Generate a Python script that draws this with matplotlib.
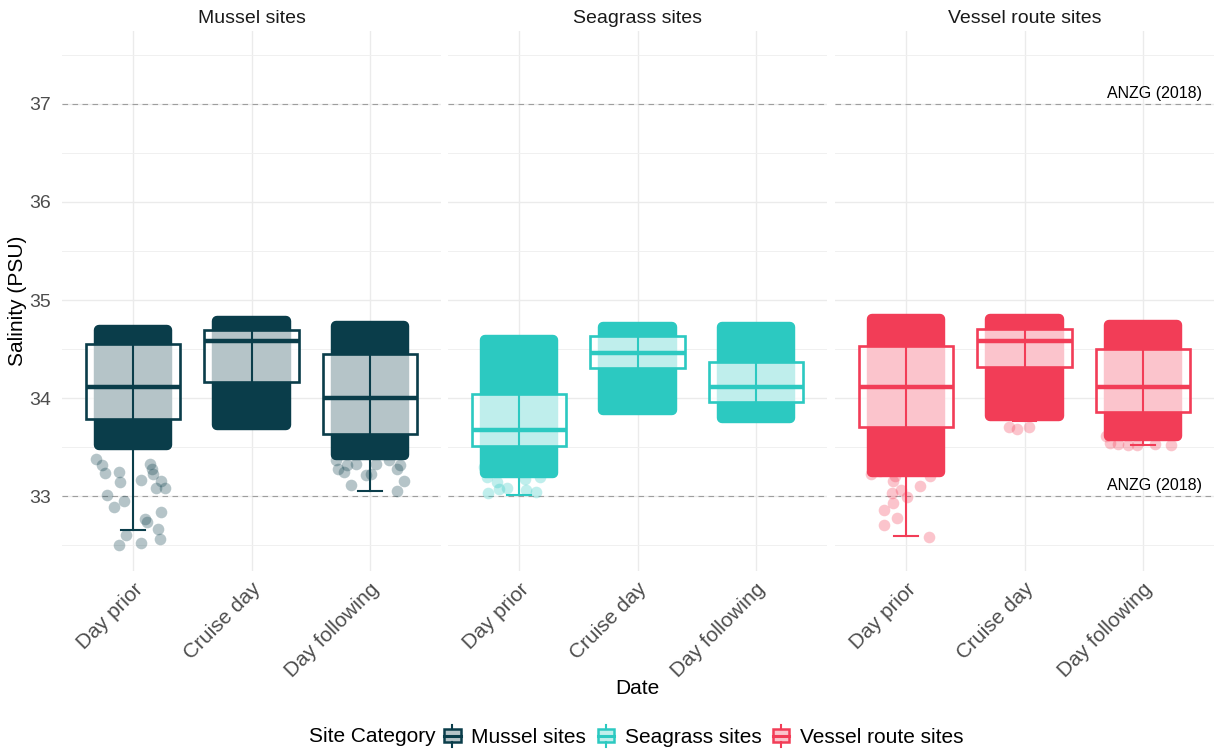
import matplotlib
matplotlib.use("Agg")
import matplotlib.pyplot as plt
from matplotlib.patches import Rectangle, Patch
from matplotlib.lines import Line2D
from matplotlib.legend_handler import HandlerBase

plt.rcParams['font.family'] = ['Liberation Sans', 'DejaVu Sans']

# data
sites = ["Mussel sites", "Seagrass sites", "Vessel route sites"]
categories = ["Day prior", "Cruise day", "Day following"]
colors = ["#0A3D4A", "#2CC9C1", "#F23D57"]

q1 = [[33.79, 34.17, 33.64], [33.51, 34.31, 33.96], [33.71, 34.32, 33.86]]
med = [[34.11, 34.58, 34.00], [33.68, 34.46, 34.11], [34.11, 34.58, 34.11]]
q3 = [[34.55, 34.69, 34.45], [34.04, 34.63, 34.37], [34.53, 34.70, 34.50]]
whisk_lo = [[32.66, 33.70, 33.05], [33.01, 33.88, 33.78], [32.60, 33.77, 33.52]]
whisk_hi = [[34.72, 34.80, 34.75], [34.62, 34.74, 34.73], [34.82, 34.82, 34.75]]

# range covered by the dense mass of jittered readings
cloud_lo = [[33.52, 33.73, 33.42], [33.24, 33.88, 33.80], [33.25, 33.82, 33.62]]
cloud_hi = [[34.69, 34.79, 34.74], [34.59, 34.73, 34.73], [34.81, 34.81, 34.75]]

# sparse readings below the dense mass: (category, jitter, salinity)
mussel_pts = [
    (0, -0.31, 33.38), (0, -0.26, 33.32), (0, -0.24, 33.24), (0, -0.12, 33.25),
    (0, -0.11, 33.15), (0, 0.07, 33.17), (0, 0.14, 33.33), (0, 0.17, 33.23),
    (0, 0.19, 33.09), (0, 0.27, 33.09), (0, 0.24, 33.16), (0, 0.16, 33.28),
    (0, -0.22, 33.01), (0, -0.16, 32.89), (0, -0.08, 32.95), (0, 0.24, 32.84),
    (0, 0.10, 32.77), (0, 0.12, 32.74), (0, 0.21, 32.67), (0, 0.23, 32.57),
    (0, -0.06, 32.61), (0, 0.07, 32.53), (0, -0.12, 32.50),
    (2, -0.29, 33.37), (2, -0.27, 33.28), (2, -0.22, 33.25), (2, -0.19, 33.32),
    (2, -0.12, 33.33), (2, -0.16, 33.12), (2, -0.03, 33.22), (2, 0.01, 33.23),
    (2, 0.05, 33.33), (2, 0.16, 33.37), (2, 0.23, 33.28), (2, 0.25, 33.32),
    (2, 0.29, 33.16), (2, 0.23, 33.05),
]
seagrass_pts = [
    (0, -0.30, 33.30), (0, -0.27, 33.20), (0, -0.19, 33.15), (0, -0.10, 33.09),
    (0, -0.17, 33.08), (0, -0.26, 33.03), (0, 0.06, 33.06), (0, 0.14, 33.04),
    (0, 0.18, 33.20), (0, 0.05, 33.18),
]
vessel_pts = [
    (0, -0.30, 33.23), (0, -0.11, 33.16), (0, -0.09, 33.21), (0, -0.04, 33.06),
    (0, 0.12, 33.11), (0, -0.12, 33.03), (0, 0.01, 32.99), (0, -0.11, 32.93),
    (0, -0.19, 32.86), (0, -0.08, 32.78), (0, -0.19, 32.71), (0, 0.19, 32.59),
    (0, 0.20, 33.21), (0, -0.22, 33.26),
    (1, -0.13, 33.71), (1, -0.06, 33.69), (1, 0.04, 33.71),
    (2, -0.31, 33.62), (2, -0.28, 33.54), (2, -0.21, 33.53), (2, -0.13, 33.52),
    (2, -0.05, 33.52), (2, 0.10, 33.53), (2, 0.24, 33.52),
]
sparse = [mussel_pts, seagrass_pts, vessel_pts]

guidelines = [33, 37]
guide_label = "ANZG (2018)"

W, H = 1214, 751
fig = plt.figure(figsize=(W / 100, H / 100), dpi=100)

panel_left = [62, 448, 835]
panel_w = 379
top, bottom = 31, 571

axes = []
for s in range(3):
    ax = fig.add_axes([panel_left[s] / W, 1 - bottom / H, panel_w / W, (bottom - top) / H])
    axes.append(ax)
    c = colors[s]
    pos = [1, 2, 3]

    for i in range(3):
        x = pos[i]
        # dense jitter mass
        ax.add_patch(Rectangle((x - 0.29, cloud_lo[s][i]), 0.58, cloud_hi[s][i] - cloud_lo[s][i],
                               facecolor=c, edgecolor=c, lw=7.5, joinstyle='round', zorder=2))
        # box
        ax.add_patch(Rectangle((x - 0.4, q1[s][i]), 0.8, q3[s][i] - q1[s][i],
                               facecolor=(1, 1, 1, 0.7), edgecolor=c, lw=1.9, zorder=4))
        ax.plot([x, x], [whisk_lo[s][i], whisk_hi[s][i]], color=c, lw=1.5, zorder=5)
        ax.plot([x - 0.1, x + 0.1], [whisk_lo[s][i]] * 2, color=c, lw=1.5, zorder=5)
        ax.plot([x - 0.1, x + 0.1], [whisk_hi[s][i]] * 2, color=c, lw=1.5, zorder=5)
        ax.plot([x - 0.4, x + 0.4], [med[s][i]] * 2, color=c, lw=3.2, zorder=6,
                solid_capstyle='butt')

    px = [pos[p[0]] + p[1] for p in sparse[s]]
    py = [p[2] for p in sparse[s]]
    ax.scatter(px, py, s=70, color=c, alpha=0.3, linewidths=0, zorder=3)

    for g in guidelines:
        ax.axhline(g, color="#9E9E9E", lw=0.8, ls=(0, (5, 4)), zorder=1.5)

    ax.set_xlim(0.4, 3.6)
    ax.set_ylim(32.24, 37.74)
    ax.set_xticks(pos)
    ax.set_xticklabels(categories, rotation=45, ha='right', va='top',
                       rotation_mode='anchor', fontsize=15, color="#4D4D4D")
    ax.set_yticks([33, 34, 35, 36, 37])
    ax.set_yticks([32.5, 33.5, 34.5, 35.5, 36.5, 37.5], minor=True)
    ax.tick_params(axis='both', which='both', length=0)
    ax.tick_params(axis='x', pad=6)
    if s == 0:
        ax.set_yticklabels(["33", "34", "35", "36", "37"], fontsize=14, color="#4D4D4D")
        ax.tick_params(axis='y', pad=8)
    else:
        ax.set_yticklabels([])
    ax.grid(True, which='major', color="#EBEBEB", lw=1.0)
    ax.grid(True, which='minor', axis='y', color="#F0F0F0", lw=0.7)
    ax.set_axisbelow(True)
    for sp in ax.spines.values():
        sp.set_visible(False)
    ax.set_title(sites[s], fontsize=14, color="#1A1A1A", pad=6)

for g in guidelines:
    axes[2].text(3.5, g + 0.03, guide_label, ha='right', va='bottom', fontsize=11.5, color="black")

fig.text(637 / W, 1 - 688 / H, "Date", ha='center', va='center', fontsize=15, color="black")
fig.text(18 / W, 1 - 301 / H, "Salinity (PSU)", ha='center', va='center', rotation=90,
         fontsize=15, color="black")


class BoxKey(HandlerBase):
    def create_artists(self, legend, orig_handle, xdescent, ydescent, width, height, fontsize, trans):
        ec = orig_handle.get_edgecolor()
        fc = orig_handle.get_facecolor()
        x0, y0 = -xdescent, -ydescent
        box = Rectangle((x0 + 0.1 * width, y0 + 0.2 * height), 0.8 * width, 0.6 * height,
                        facecolor=fc, edgecolor=ec, lw=1.8, transform=trans)
        mid = Line2D([x0 + 0.1 * width, x0 + 0.9 * width], [y0 + 0.5 * height] * 2,
                     color=ec, lw=2.2, transform=trans)
        up = Line2D([x0 + 0.5 * width] * 2, [y0 + 0.8 * height, y0 + 1.0 * height],
                    color=ec, lw=1.5, transform=trans)
        dn = Line2D([x0 + 0.5 * width] * 2, [y0, y0 + 0.2 * height],
                    color=ec, lw=1.5, transform=trans)
        return [box, mid, up, dn]


light = ["#B6C4C8", "#C0EFEC", "#FAC5CC"]
handles = [Patch(facecolor=light[k], edgecolor=colors[k]) for k in range(3)]
fig.legend(handles, sites, handler_map={Patch: BoxKey()}, loc='center left',
           bbox_to_anchor=(442 / W, 1 - 736 / H), ncol=3, frameon=False, borderpad=0,
           borderaxespad=0, handlelength=1.0, handleheight=1.2, handletextpad=0.4,
           columnspacing=0.45, fontsize=15)
fig.text(436 / W, 1 - 736 / H, "Site Category", ha='right', va='center', fontsize=15)

fig.savefig("out.png", dpi=100, facecolor="white")
